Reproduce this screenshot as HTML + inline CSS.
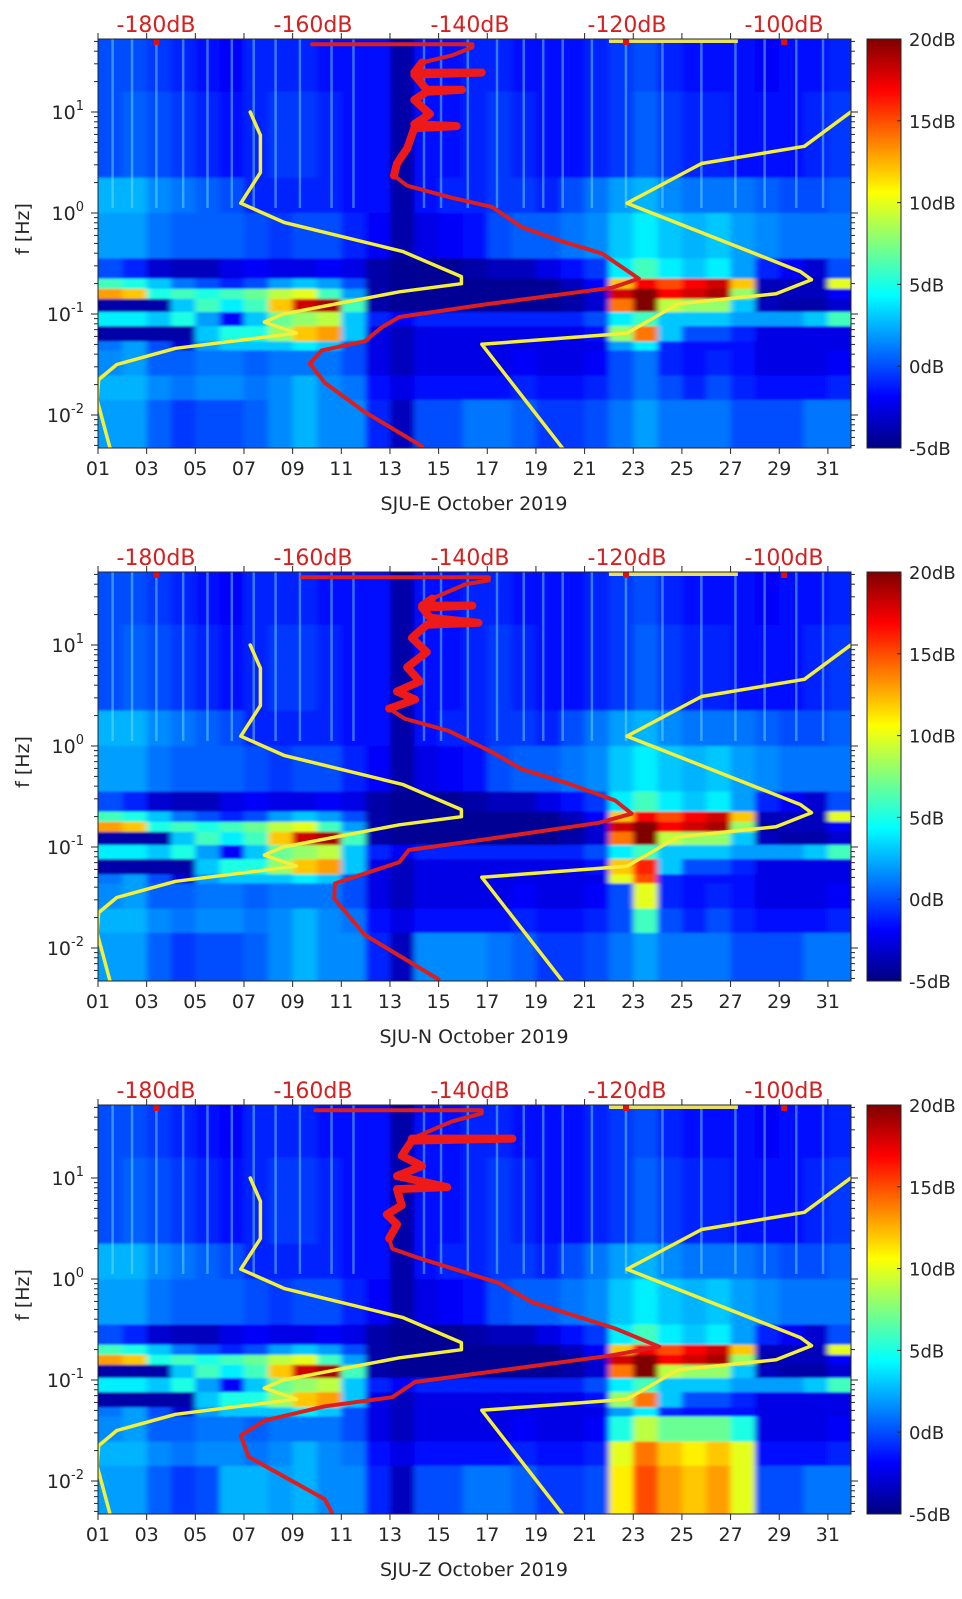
<!DOCTYPE html>
<html><head><meta charset="utf-8">
<style>
html,body{margin:0;padding:0;background:#fff;}
svg{display:block;font-family:"DejaVu Sans","Liberation Sans",sans-serif;}
</style></head>
<body>
<svg id="chart" width="962" height="1599" viewBox="0 0 962 1599" xmlns="http://www.w3.org/2000/svg">
<defs>
<linearGradient id="jetGrad" x1="0" y1="1" x2="0" y2="0">
<stop offset="0" stop-color="#000080"/>
<stop offset="0.125" stop-color="#0000ff"/>
<stop offset="0.375" stop-color="#00ffff"/>
<stop offset="0.625" stop-color="#ffff00"/>
<stop offset="0.875" stop-color="#ff0000"/>
<stop offset="1" stop-color="#800000"/>
</linearGradient>
<filter id="soft" x="-2%" y="-2%" width="104%" height="104%"><feGaussianBlur stdDeviation="3 1"/></filter>
</defs>
</svg>
<script>
// ---------- data ----------
const dayTicks = [1,3,5,7,9,11,13,15,17,19,21,23,25,27,29,31];
const dayTickLabels = ["01","03","05","07","09","11","13","15","17","19","21","23","25","27","29","31"];
const dbTicks = [-180,-160,-140,-120,-100];
const dbTickLabels = ["-180dB","-160dB","-140dB","-120dB","-100dB"];
const freqDecades = [-2,-1,0,1];
const freqDecadeLabels = ["-2","-1","0","1"];
const cbarTicks = [20,15,10,5,0,-5];
const cbarTickLabels = ["20dB","15dB","10dB","5dB","0dB","-5dB"];
const panelNames = ["SJU-E October 2019","SJU-N October 2019","SJU-Z October 2019"];

// spectrogram rows (log10 f edges, top to bottom)
const rowEdges = [1.72,1.2,0.35,0,-0.45,-0.65,-0.75,-0.85,-0.98,-1.12,-1.27,-1.36,-1.61,-1.85,-2.33];
// dB values per row, days 1..31
const specBase = [
[0,0,-0.5,-1,-1.5,-2,-1,-1,-1,-1.5,-1.5,-1.5,-4,-1.5,-1.5,-1,-1,-1.5,-1.5,-1.5,-1,-0.5,0,-1,-1.5,-1.5,-1.5,-2,-1.5,-1.5,-1],
[0,0.5,0,-0.5,-1,-1.5,-1,-0.5,-0.5,-1,-1.5,-1.5,-4,-1.5,-1.5,-1,-0.5,-1,-1.5,-1.5,-1,-0.5,0.5,-0.5,-1,-1,-1.5,-1.5,-1.5,-1,-0.5],
[2.5,2.5,1.5,1,0.5,0,-1,-1,-1,-1,-1.5,-1.5,-4,-1.5,-1,-1,-0.5,-0.5,-1,0,1,2,2.5,1.5,1,1,1,0.5,0,0,0.5],
[2,2,1,0.5,0.5,0.5,0,-0.5,0,0,-1,-2,-4,-2.5,-2,-1.5,0,0.5,0.5,1,1.5,3,4,3,2.5,3,2,1.5,1,1,1],
[0,-1,-3,-3.5,-3.5,-2.5,-2,-2.5,-2.5,-2,-2.5,-4,-4.5,-4.5,-4.5,-4,-3.5,-3.5,-2.5,-1.5,-0.5,4,6,4,3,4,2,-1,-2,-3,0],
[6,5,3,1,0,-1,0,2,3,2,0,-4,-4.5,-4.5,-4.5,-4.5,-4.5,-4.5,-4.5,-3.5,-2,12,17,15,17,18,12,-3.5,-3.5,-3.5,10],
[13,12,5,6,5,6,7,9,10,6,2,-4,-4.5,-4.5,-4.5,-4.5,-4.5,-4.5,-4.5,-4.5,-3,18,20,17,18,19,8,-4,-3.5,-3.5,-2],
[-4,-4,-4,3,6,4,6,12,18,19,6,-4,-4.5,-4.5,-4.5,-4.5,-4.5,-4.5,-4.5,-4,-3,14,20,9,8,8,3,-3.5,-4,-4,-3],
[4,4,3,5,2,-2,3,7,8,9,3,-1,-2,-1,-1,-1,-1,-1,-1,-1,0,4,6,3,3,3,2,2,2,3,6],
[-4,-4,-4,-4,3,5,5,8,12,13,3,-2.5,-3.5,-2.5,-2.5,-2.5,-2.5,-2.5,-2.5,-2.5,-1.5,8,14,3,0,0,-1,-2.5,-2.5,-2.5,-2.5],
[1,2,0,-3,2,3,3,3,4,3,0,-2.5,-3.5,-2.5,-2.5,-2.5,-2.5,-2.5,-2.5,-2.5,-2.5,2,4,-1,-1.5,-1.5,-1.5,-2.5,-2.5,-2.5,-2.5],
[1.5,2,0.5,0.5,1,1,0.5,1,1,1,0,-2.5,-3.5,-2.5,-2.5,-2.5,-2.5,-2,-2.5,-2.5,-2,0,1,-1,-1.5,-1,-1.5,-2.5,-2.5,-2.5,-2],
[2.5,2.5,1.5,1,1.5,1.5,1,1.5,2.5,1.5,1,-1.5,-2.5,-1.5,-1.5,-1.5,-1.5,-1,-1.5,-1.5,-1,0,1,0,-1,0,-1,-1.5,-1.5,-1.5,-1],
[2,2,0.5,-0.5,0,0,0.5,1.5,2.5,1.5,1.5,-1,-3.5,0,0,1,1,0.5,-0.5,-0.5,0,1,2,1,1,1,0,0,0,1,1]
];
// per-panel overrides: [row, day, dB]
const overridesP1 = [];
const overridesP2 = [[9,22,12],[9,23,16],[10,22,10],[10,23,15],[11,23,10],[12,23,6],[13,14,1.5],[13,15,1.5],[13,16,1.5]];
const overridesP3 = [[11,22,5],[11,23,9],[11,24,7],[11,25,7],[11,26,7],[11,27,5],
 [12,22,10],[12,23,14],[12,24,12],[12,25,11],[12,26,12],[12,27,10],
 [13,22,11],[13,23,15],[13,24,13],[13,25,12],[13,26,13],[13,27,10],[13,6,2.5],[13,7,2.5],[13,8,2]];
const streakDays = [1.6,2.4,3.4,4.5,5.5,6.5,7.4,8.3,9.3,10.6,11.5,14.4,15.1,16.2,17.4,18.5,19.3,20.1,21.3,22.7,24.2,25.8,27.2,28.4,29.7,30.8];

// noise models (dB vs log10 f)
const nlnmDb = [-168.0,-166.7,-166.7,-169.2,-163.7,-148.6,-141.1,-141.1,-149.0,-163.8,-166.2,-162.1,-177.5,-185.0,-187.3,-187.5,-185.6];
const nlnmLogF = [1.0,0.77,0.40,0.097,-0.093,-0.38,-0.63,-0.70,-0.78,-1.0,-1.08,-1.19,-1.34,-1.50,-1.65,-1.85,-2.40];
const nhnmDb = [-91.5,-97.4,-110.5,-120.0,-97.9,-96.5,-101.0,-113.5,-120.0,-138.5,-126.0];
const nhnmLogF = [1.0,0.66,0.49,0.097,-0.58,-0.66,-0.80,-0.90,-1.19,-1.30,-2.55];

// station median PSD per panel
const redDbP1 = [-160.1,-139.7,-139.7,-142.3,-146.1,-147.1,-138.5,-147.1,-145.5,-141.0,-145.5,-147.1,-145.1,-147.1,-141.7,-147.1,-148.0,-149.3,-149.7,-148.0,-142.3,-137.2,-133.4,-128.3,-123.2,-118.5,-121.9,-138.5,-149.0,-151.2,-153.4,-158.9,-160.4,-158.5,-153.4,-146.1];
const redLogFP1 = [1.67,1.67,1.64,1.56,1.49,1.39,1.39,1.37,1.22,1.22,1.20,1.12,0.98,0.88,0.86,0.84,0.64,0.49,0.37,0.27,0.15,0.06,-0.14,-0.28,-0.40,-0.65,-0.74,-0.91,-1.03,-1.13,-1.27,-1.36,-1.49,-1.68,-1.97,-2.31];
const redDbP2 = [-161.4,-137.6,-137.6,-140.6,-144.8,-146.1,-139.7,-146.1,-145.1,-138.9,-145.5,-147.4,-145.5,-148.0,-146.4,-149.3,-147.0,-150.3,-148.3,-142.7,-137.2,-133.4,-127.9,-121.5,-119.4,-123.6,-138.5,-147.8,-149.0,-157.2,-157.3,-153.4,-144.0];
const redLogFP2 = [1.67,1.67,1.64,1.60,1.46,1.39,1.39,1.37,1.27,1.22,1.20,1.07,0.93,0.78,0.64,0.54,0.46,0.37,0.27,0.15,-0.06,-0.23,-0.36,-0.54,-0.67,-0.76,-0.93,-1.03,-1.15,-1.36,-1.51,-1.87,-2.31];
const redDbP3 = [-159.7,-138.5,-138.5,-142.3,-147.4,-134.6,-147.4,-148.7,-146.1,-149.3,-142.9,-149.3,-148.7,-150.6,-149.3,-150.3,-149.9,-147.0,-136.3,-132.1,-121.5,-115.9,-122.3,-147.0,-149.9,-158.5,-166.1,-169.2,-168.2,-158.5,-157.6];
const redLogFP3 = [1.67,1.67,1.64,1.56,1.39,1.39,1.37,1.22,1.12,1.02,0.91,0.89,0.73,0.64,0.54,0.40,0.30,0.22,-0.04,-0.23,-0.49,-0.67,-0.76,-1.02,-1.17,-1.26,-1.40,-1.55,-1.76,-2.18,-2.31];

// ---------- scales ----------
const PL=98, PR=851, PT=39, PB=448, PANEL_H=533;
const LF_TOP=1.72, LF_BOT=-2.33;
function xDay(d){return PL+(d-1)*24.33;}
function xDb(db){return 470+(db+140)*7.85;}
function yLf(lf,oy){return oy+213-lf*101;}
function jet(v){
  let t=(v+5)/25; t=Math.max(0,Math.min(1,t));
  const c=x=>Math.round(255*Math.max(0,Math.min(1,x)));
  return `rgb(${c(1.5-Math.abs(4*t-3))},${c(1.5-Math.abs(4*t-2))},${c(1.5-Math.abs(4*t-1))})`;
}
const NS="http://www.w3.org/2000/svg";
const svg=document.getElementById("chart");
function mk(tag,attrs,parent){const e=document.createElementNS(NS,tag);for(const k in attrs)e.setAttribute(k,attrs[k]);(parent||svg).appendChild(e);return e;}

const allOverrides=[overridesP1,overridesP2,overridesP3];
const allRedDb=[redDbP1,redDbP2,redDbP3];
const allRedLf=[redLogFP1,redLogFP2,redLogFP3];

for(let p=0;p<3;p++){
  const oy=p*PANEL_H;
  const g=mk("g",{});
  
  
  const cp=mk("clipPath",{id:"clip"+p},g);
  mk("rect",{x:PL,y:oy+PT,width:PR-PL,height:PB-PT},cp);

  const spec=specBase.map(r=>r.slice());
  allOverrides[p].forEach(o=>{spec[o[0]][o[1]-1]=o[2];});
  const hg=mk("g",{"clip-path":`url(#clip${p})`},g);
  
  
  mk("rect",{x:PL,y:oy+PT,width:PR-PL,height:PB-PT,fill:jet(-1)},hg);
  const cells=mk("g",{filter:"url(#soft)"},hg);
  for(let r=0;r<spec.length;r++){
    const y0=yLf(rowEdges[r],oy), y1=yLf(rowEdges[r+1],oy);
    for(let c=0;c<31;c++){
      const x0=xDay(c+1), x1=c==30?PR+6:xDay(c+2);
      const cell=mk("rect",{x:(c==0?x0-6:x0).toFixed(1),y:(r==0?y0-6:y0).toFixed(1),width:((c==0?6:0)+x1-x0+0.6).toFixed(1),height:((r==0?6:0)+(r==spec.length-1?6:0)+y1-y0+0.6).toFixed(1),fill:jet(spec[r][c])},cells);
      
      
    }
  }
  streakDays.forEach(d=>{
    const s=mk("line",{x1:xDay(d),x2:xDay(d),y1:yLf(LF_TOP,oy),y2:yLf(0.05,oy),stroke:"rgba(120,230,255,0.45)","stroke-width":2.5},hg);
    
    
  });
  const hot=mk("rect",{x:xDay(22),y:oy+PT,width:xDay(27.3)-xDay(22),height:4,fill:"#e8e060"},hg);
  
  
  [3.4,22.7,29.2].forEach(d=>{
    const dot=mk("rect",{x:xDay(d)-3,y:oy+PT,width:6,height:6,fill:"#e01010"},hg);
    
    
  });

  const lineFrom=(dbs,lfs)=>dbs.map((v,i)=>`${i?"L":"M"}${xDb(v).toFixed(1)},${yLf(lfs[i],oy).toFixed(1)}`).join(" ");
  const cg=mk("g",{"clip-path":`url(#clip${p})`,fill:"none","stroke-linejoin":"round","stroke-linecap":"round"},g);
  const nl=mk("path",{d:lineFrom(nlnmDb,nlnmLogF),stroke:"#f3ef3a","stroke-width":3.5},cg);
  
  
  const nh=mk("path",{d:lineFrom(nhnmDb,nhnmLogF),stroke:"#f3ef3a","stroke-width":3.5},cg);
  
  
  const rd=mk("path",{d:lineFrom(allRedDb[p],allRedLf[p]),stroke:"#dc1e1e","stroke-width":4},cg);
  
  
  const hiDb=allRedDb[p].filter((v,i)=>allRedLf[p][i]>0.3&&allRedLf[p][i]<1.55);
  const hiLf=allRedLf[p].filter(v=>v>0.3&&v<1.55);
  const rj=mk("path",{d:lineFrom(hiDb,hiLf),stroke:"#ee1a1a","stroke-width":8},cg);
  
  

  const box=mk("rect",{x:PL,y:oy+PT,width:PR-PL,height:PB-PT,fill:"none",stroke:"#262626","stroke-width":1},g);
  
  

  dayTicks.forEach((d,i)=>{
    const x=xDay(d);
    mk("line",{x1:x,x2:x,y1:oy+PB,y2:oy+PB+6,stroke:"#262626"},g);
    mk("line",{x1:x,x2:x,y1:oy+PT,y2:oy+PT-6,stroke:"#262626"},g);
    const t=mk("text",{x:x,y:oy+PB+27,"text-anchor":"middle","font-size":19,fill:"#262626"},g);
    t.textContent=dayTickLabels[i];
    
    
  });
  dbTicks.forEach((db,i)=>{
    const t=mk("text",{x:xDb(db),y:oy+32,"text-anchor":"middle","font-size":22,fill:"#d42020"},g);
    t.textContent=dbTickLabels[i];
    
    
  });
  for(let dec=-3;dec<=1;dec++){
    for(let k=1;k<10;k++){
      const lf=dec+Math.log10(k);
      if(lf>LF_TOP||lf<LF_BOT)continue;
      const y=yLf(lf,oy), len=k==1?7:4;
      mk("line",{x1:PL-len,x2:PL,y1:y,y2:y,stroke:"#262626"},g);
      mk("line",{x1:PR,x2:PR+len,y1:y,y2:y,stroke:"#262626"},g);
    }
  }
  freqDecades.forEach((dec,i)=>{
    const y=yLf(dec,oy);
    const t=mk("text",{x:84,y:y+7,"text-anchor":"end","font-size":19,fill:"#262626"},g);
    
    
    const a=mk("tspan",{},t);a.textContent="10";
    const b=mk("tspan",{dy:-9,"font-size":13},t);b.textContent=freqDecadeLabels[i];
  });
  const yl=mk("text",{x:0,y:0,transform:`translate(29,${oy+229}) rotate(-90)`,"text-anchor":"middle","font-size":19,fill:"#262626"},g);
  yl.textContent="f [Hz]";
  
  
  const xl=mk("text",{x:474,y:oy+510,"text-anchor":"middle","font-size":19,fill:"#262626"},g);
  xl.textContent=panelNames[p];
  
  

  const cb=mk("rect",{x:867,y:oy+PT,width:34,height:PB-PT,fill:"url(#jetGrad)",stroke:"#262626","stroke-width":1},g);
  
  
  cbarTicks.forEach((v,i)=>{
    const y=oy+PB-(v+5)/25*(PB-PT);
    mk("line",{x1:897,x2:901,y1:y,y2:y,stroke:"#262626"},g);
    const t=mk("text",{x:909,y:y+7,"font-size":18,fill:"#262626"},g);
    t.textContent=cbarTickLabels[i];
    
    
  });
}
</script>
</body></html>
